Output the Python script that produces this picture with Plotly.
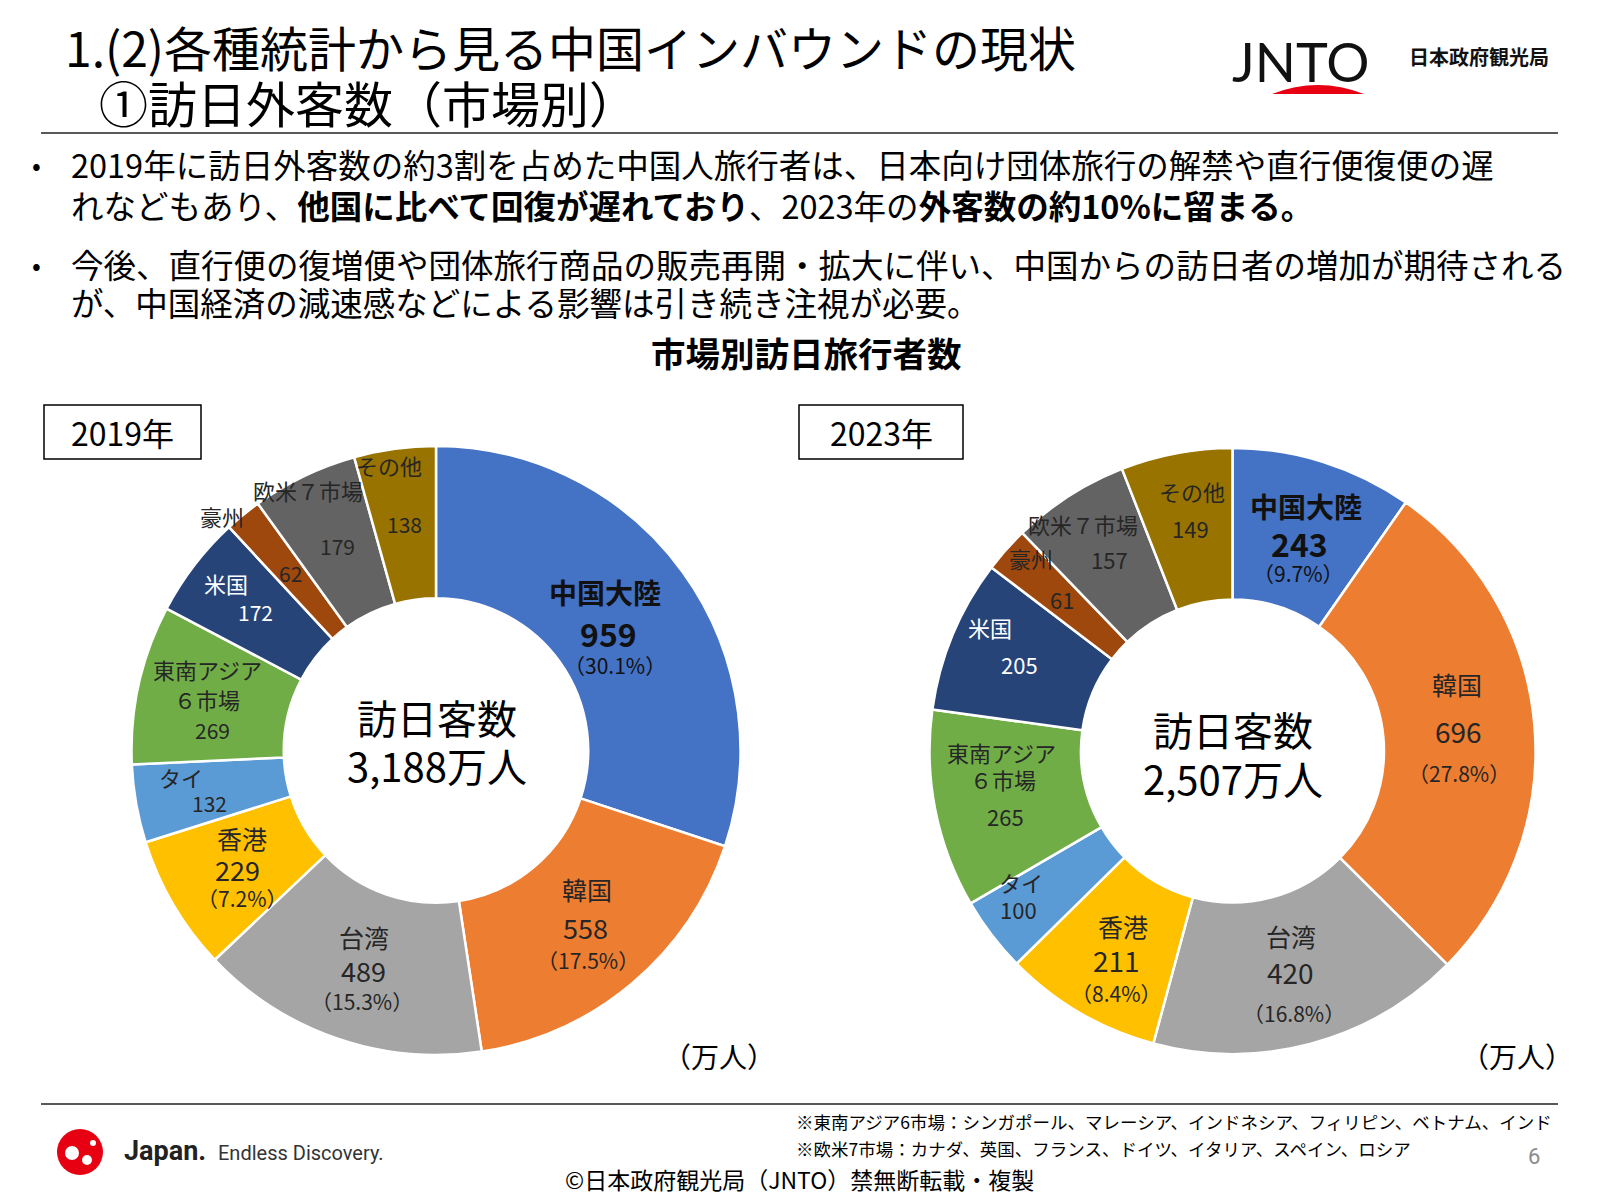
import math
import plotly.graph_objects as go

W, H = 1600, 1200
FONT = "Noto Sans CJK JP"
TXT = "#262626"

# ---------------- data ----------------
markets = ["中国大陸", "韓国", "台湾", "香港", "タイ", "東南アジア６市場", "米国", "豪州", "欧米７市場", "その他"]
colors = ["#4472C4", "#ED7D31", "#A5A5A5", "#FFC000", "#5B9BD5", "#70AD47", "#264478", "#9E480E", "#636363", "#997300"]
values_2019 = [959, 558, 489, 229, 132, 269, 172, 62, 179, 138]
values_2023 = [243, 696, 420, 211, 100, 265, 205, 61, 157, 149]
pct_2019 = ["30.1%", "17.5%", "15.3%", "7.2%", None, None, None, None, None, None]
pct_2023 = ["9.7%", "27.8%", "16.8%", "8.4%", None, None, None, None, None, None]
total_2019 = "3,188万人"
total_2023 = "2,507万人"

# ---------------- layout constants (pixels) ----------------
C19, R19 = (436.0, 750.5), 304.5
C23, R23 = (1232.5, 751.0), 303.0


def px(x):
    return x / W


def py(y):
    return 1 - y / H


annotations = []
shapes = []


def ann(x, y, text, size, color="#000000", xanchor="center", family=FONT, yanchor="middle"):
    annotations.append(dict(
        x=px(x), y=py(y), xref="paper", yref="paper", text=text, showarrow=False,
        xanchor=xanchor, yanchor=yanchor,
        font=dict(family=family, size=size, color=color),
    ))


def domain(c, r):
    return dict(x=[px(c[0] - r), px(c[0] + r)], y=[py(c[1] + r), py(c[1] - r)])


fig = go.Figure()
for vals, c, r in [(values_2019, C19, R19), (values_2023, C23, R23)]:
    fig.add_trace(go.Pie(
        labels=markets, values=vals, sort=False, direction="clockwise", rotation=0,
        hole=0.5, textinfo="none", hoverinfo="label+value",
        marker=dict(colors=colors, line=dict(color="white", width=2.5)),
        domain=domain(c, r), showlegend=False,
    ))


# ---------------- slice labels (placed at each slice's mid-angle) ----------------
def item_text(kind, i, vals, pcts):
    if kind == "name":
        return markets[i]
    if kind == "nameA":
        return "東南アジア"
    if kind == "nameB":
        return "６市場"
    if kind == "val":
        return str(vals[i])
    return "（" + pcts[i] + "）"


def slice_labels(vals, pcts, c, r, spec):
    tot = float(sum(vals))
    cum = 0.0
    for i, v in enumerate(vals):
        mid = (cum + v / 2) / tot * 360.0
        cum += v
        rf, dang, col, items = spec[i]
        th = math.radians(mid + dang)
        ax = c[0] + rf * r * math.sin(th)
        ay = c[1] - rf * r * math.cos(th)
        for (k, dx, dy, sz, bold) in items:
            t = item_text(k, i, vals, pcts)
            if bold:
                t = "<b>" + t + "</b>"
            ann(ax + dx, ay + dy, t, sz, col)


WH = "#FFFFFF"
BK = "#111111"
spec19 = [
    (0.687, 1.5, BK, [("name", -4, -41, 28, True), ("val", 0, 0, 32, True), ("pct", 6, 32, 21, False)]),
    (0.761, 0, TXT, [("name", 2, -39, 25, False), ("val", 0, 0, 27, False), ("pct", 3, 32, 21, False)]),
    (0.76, -0.8, TXT, [("name", 0, -33, 25, False), ("val", 0, 0, 27, False), ("pct", -2, 31, 21, False)]),
    (0.76, -0.4, TXT, [("name", 5, -31, 25, False), ("val", 0, 0, 27, False), ("pct", 5, 29, 21, False)]),
    (0.762, -3.0, TXT, [("name", -29, -26, 22, False), ("val", 0, 0, 21, False)]),
    (0.77, 0, TXT, [("nameA", 0, -30, 22, False), ("nameB", 0, 0, 22, False), ("val", 5, 31, 21, False)]),
    (0.746, 0, WH, [("name", -30, -29, 22, False), ("val", 0, 0, 21, False)]),
    (0.752, 0, TXT, [("name", -69, -57, 22, False), ("val", 0, 0, 21, False)]),
    (0.747, 0, TXT, [("name", -29, -56, 22, False), ("val", 0, 0, 21, False)]),
    (0.752, 0, TXT, [("name", -16, -59, 22, False), ("val", 0, 0, 21, False)]),
]
spec23 = [
    (0.72, 0.4, BK, [("name", 7, -37, 28, True), ("val", 0, 0, 32, True), ("pct", -1, 30, 21, False)]),
    (0.75, 0.2, TXT, [("name", -2, -47, 25, False), ("val", 0, 0, 28, False), ("pct", 0, 42, 21, False)]),
    (0.755, 0.3, TXT, [("name", 0, -36, 25, False), ("val", 0, 0, 28, False), ("pct", 3, 41, 21, False)]),
    (0.79, -1.2, TXT, [("name", 7, -34, 25, False), ("val", 0, 0, 28, False), ("pct", 0, 33, 21, False)]),
    (0.877, 1.0, TXT, [("name", 2, -27, 22, False), ("val", 0, 0, 22, False)]),
    (0.763, 4.3, TXT, [("nameA", -1, -27, 22, False), ("nameB", 0, 0, 22, False), ("val", 3, 37, 22, False)]),
    (0.76, -0.5, WH, [("name", -29, -37, 22, False), ("val", 0, 0, 22, False)]),
    (0.754, 0, TXT, [("name", -31, -41, 22, False), ("val", 0, 0, 22, False)]),
    (0.753, 0, TXT, [("name", -26, -35, 22, False), ("val", 0, 0, 22, False)]),
    (0.75, 0, TXT, [("name", 2, -37, 22, False), ("val", 0, 0, 22, False)]),
]
slice_labels(values_2019, pct_2019, C19, R19, spec19)
slice_labels(values_2023, pct_2023, C23, R23, spec23)

# centre texts
ann(437, 717, "訪日客数", 40)
ann(437, 765, total_2019, 40)
ann(1233, 729, "訪日客数", 40)
ann(1233, 778, total_2023, 40)

# unit labels
ann(719, 1056, "（万人）", 28)
ann(1517, 1056, "（万人）", 28)

# year boxes
for (x0, x1, label) in [(44, 201, "2019年"), (799, 963, "2023年")]:
    shapes.append(dict(type="rect", xref="paper", yref="paper", x0=px(x0), x1=px(x1),
                       y0=py(459), y1=py(405), line=dict(color="#000", width=1.5)))
    ann((x0 + x1) / 2, 432, label, 32)

# ---------------- header ----------------
ann(63, 46, "1.(2)各種統計から見る中国インバウンドの現状", 48, xanchor="left")
ann(97, 102, "①訪日外客数（市場別）", 49, xanchor="left")

ann(1300, 62, "JNTO", 54, family="Lato", color="#111")
shapes.append(dict(type="path", xref="paper", yref="paper",
                   path="M {:.5f},{:.5f} Q {:.5f},{:.5f} {:.5f},{:.5f} Z".format(
                       px(1272), py(94), px(1318), py(76), px(1364), py(94)),
                   fillcolor="#E60012", line=dict(width=0)))
ann(1479, 57, "<b>日本政府観光局</b>", 20, color="#111")

shapes.append(dict(type="line", xref="paper", yref="paper", x0=px(41), x1=px(1558),
                   y0=py(133), y1=py(133), line=dict(color="#595959", width=2)))

# bullets
ann(30, 163, "•", 26, xanchor="left")
ann(69, 163, "2019年に訪日外客数の約3割を占めた中国人旅行者は、日本向け団体旅行の解禁や直行便復便の遅", 32.5, xanchor="left")
ann(69, 204, "れなどもあり、<b>他国に比べて回復が遅れており</b>、2023年の<b>外客数の約10%に留まる。</b>", 32.5, xanchor="left")
ann(30, 263, "•", 26, xanchor="left")
ann(69, 263, "今後、直行便の復増便や団体旅行商品の販売再開・拡大に伴い、中国からの訪日者の増加が期待される", 32.5, xanchor="left")
ann(69, 301, "が、中国経済の減速感などによる影響は引き続き注視が必要。", 32.5, xanchor="left")

ann(806, 352, "<b>市場別訪日旅行者数</b>", 34.5)

# ---------------- footer ----------------
shapes.append(dict(type="line", xref="paper", yref="paper", x0=px(41), x1=px(1558),
                   y0=py(1104), y1=py(1104), line=dict(color="#595959", width=2)))
ann(794, 1121, "※東南アジア6市場：シンガポール、マレーシア、インドネシア、フィリピン、ベトナム、インド", 17.5, xanchor="left")
ann(794, 1148, "※欧米7市場：カナダ、英国、フランス、ドイツ、イタリア、スペイン、ロシア", 17.5, xanchor="left")
ann(799, 1179, "©日本政府観光局（JNTO）禁無断転載・複製", 23)
ann(1534, 1156, "6", 22, color="#8C8C8C", family="Roboto")

# Japan logo
shapes.append(dict(type="circle", xref="paper", yref="paper", x0=px(57), x1=px(103),
                   y0=py(1175), y1=py(1129), fillcolor="#E60012", line=dict(width=0)))
for (cx, cy, rr) in [(72, 1153, 7), (87, 1160, 5), (93, 1143, 3)]:
    shapes.append(dict(type="circle", xref="paper", yref="paper", x0=px(cx - rr), x1=px(cx + rr),
                       y0=py(cy + rr), y1=py(cy - rr), fillcolor="#FFFFFF", line=dict(width=0)))
ann(122, 1151, "<b>Japan.</b>", 27, color="#222", xanchor="left", family="Roboto")
ann(216, 1153, "Endless Discovery.", 20, color="#333", xanchor="left", family="Roboto")

fig.update_layout(
    width=W, height=H, margin=dict(l=0, r=0, t=0, b=0),
    paper_bgcolor="white", plot_bgcolor="white",
    annotations=annotations, shapes=shapes, showlegend=False,
)

fig.write_html("out.html", config={"displayModeBar": False},
               post_script="document.body.style.margin='0px';")
